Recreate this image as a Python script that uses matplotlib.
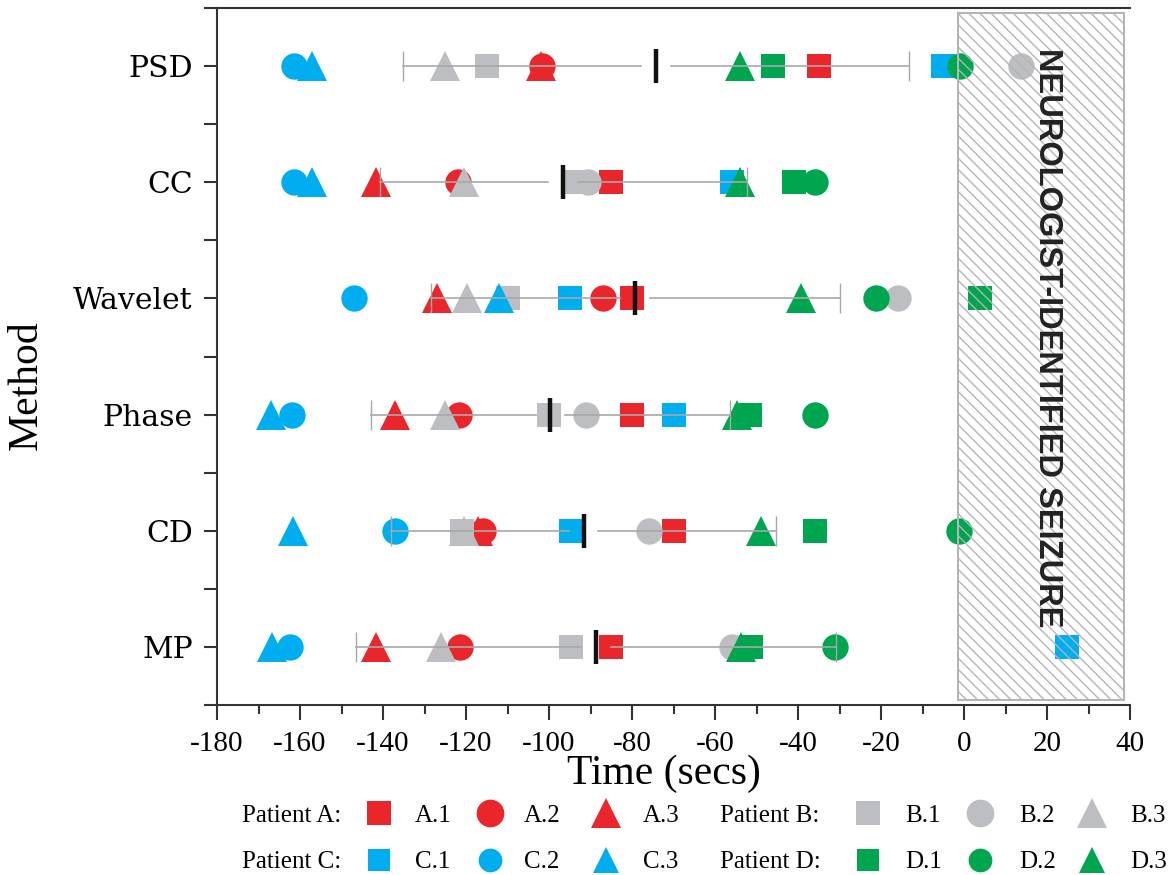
import matplotlib.pyplot as plt
import numpy as np
from matplotlib.lines import Line2D
from matplotlib.patches import Rectangle

plt.rcParams['axes.unicode_minus'] = False

# methods, top to bottom
methods = ['PSD', 'CC', 'Wavelet', 'Phase', 'CD', 'MP']

# detection time (secs before neurologist-identified onset), one value per method
A1 = [-35, -85, -80, -80, -70, -85]
A2 = [-101.8, -122, -87, -121.6, -116, -121.4]
A3 = [-102, -141.8, -127, -137, -117, -141.8]
B1 = [-115, -93.5, -110, -100, -121, -94.8]
B2 = [13.7, -90.5, -16, -91, -76, -55.8]
B3 = [-125, -120.4, -119.7, -125, -120.4, -126]
C1 = [-5, -55.8, -95, -70, -94.8, 24.8]
C2 = [-161.4, -161.5, -147, -162, -137, -162.3]
C3 = [-157, -157, -112, -167, -161.8, -166.7]
D1 = [-46, -41, 3.8, -51.5, -36, -51.4]
D2 = [-1, -36, -21.2, -36, -1.2, -31]
D3 = [-54, -54, -39.2, -54.6, -49, -53.7]

patients = ['A', 'B', 'C', 'D']
patient_colors = ['#E8262B', '#BCBEC2', '#00AEEF', '#00A54F']
trial_markers = ['s', 'o', '^']
series = [[A1, A2, A3], [B1, B2, B3], [C1, C2, C3], [D1, D2, D3]]

seizure_start, seizure_end = -1.4, 38.6

marker_size = {'s': 17, 'o': 19, '^': 21}
serif = 'Liberation Serif'

fig = plt.figure(figsize=(11.73, 8.75), dpi=100)
ax = fig.add_axes([217 / 1173, 1 - 705 / 875, (1130 - 217) / 1173, 697 / 875])

ypos = np.arange(len(methods))[::-1] + 1

for p, color, trials in zip(patients, patient_colors, series):
    for mk, vals in zip(trial_markers, trials):
        ax.plot(vals, ypos, ls='none', marker=mk, ms=marker_size[mk],
                color=color, mew=0, zorder=3)

# mean +/- sd per method
all_vals = np.array([v for trials in series for v in trials])
mean = all_vals.mean(axis=0)
sd = all_vals.std(axis=0, ddof=1)
gap = 3.6
for m, s, y in zip(mean, sd, ypos):
    ax.plot([m - s, m - gap], [y, y], color='#A8A8A8', lw=1.2, zorder=4)
    ax.plot([m + gap, m + s], [y, y], color='#A8A8A8', lw=1.2, zorder=4)
    ax.plot([m - s, m + s], [y, y], ls='none', marker='|', ms=21, mew=1.0,
            color='#A8A8A8', zorder=4)
    ax.plot(m, y, marker='|', ms=25, mew=3.2, color='#111111', zorder=5)

# seizure window
plt.rcParams['hatch.linewidth'] = 1.0
ax.add_patch(Rectangle((seizure_start, 0.54), seizure_end - seizure_start, 5.92,
                       facecolor='none', edgecolor='#B5B5B5', hatch='\\\\\\',
                       lw=1.5, zorder=6))
ax.text(20.2, 3.66, 'NEUROLOGIST-IDENTIFIED SEIZURE', rotation=270,
        ha='center', va='center', fontsize=23.5, fontweight='bold',
        family='Liberation Sans', color='#222222', zorder=7)

ax.set_xlim(-180, 40)
ax.set_ylim(0.5, 6.5)
ax.set_xticks(np.arange(-180, 41, 20))
ax.set_xticks(np.arange(-170, 40, 20), minor=True)
ax.set_yticks(ypos, methods)
ax.set_yticks(np.arange(0.5, 6.6, 1.0), minor=True)

for lab in ax.get_xticklabels():
    lab.set_family(serif)
    lab.set_fontsize(21)
for lab in ax.get_yticklabels():
    lab.set_family('DejaVu Serif')
    lab.set_fontsize(21.5)

ax.tick_params(axis='x', which='major', length=10.8, width=1.5, pad=8, color='#333333')
ax.tick_params(axis='x', which='minor', length=6.5, width=1.5, color='#333333')
ax.tick_params(axis='y', which='both', length=9.4, width=1.5, pad=8, color='#333333')

for side in ['left', 'bottom', 'top']:
    ax.spines[side].set_linewidth(1.5)
    ax.spines[side].set_color('#333333')
ax.spines['right'].set_visible(False)

fig.text(664 / 1173, 1 - 774 / 875, 'Time (secs)', ha='center', va='center',
         fontsize=30, family=serif)
fig.text(27 / 1173, 1 - 385 / 875, 'Method', ha='center', va='center',
         rotation=90, fontsize=30, family=serif)

# legend, drawn by hand in two rows
row_y = [813, 860]
group_label_x = [242, 720]
group_marker_x = [[379, 490, 606], [868, 980, 1092]]
group_text_x = [[415, 524, 643], [905, 1019, 1130]]
row_ms = [1.05, 0.9]
for k, (p, color) in enumerate(zip(patients, patient_colors)):
    row, grp = k // 2, k % 2
    yf = 1 - row_y[row] / 875
    fig.text(group_label_x[grp] / 1173, yf, f'Patient {p}:', ha='left',
             va='center_baseline', fontsize=18, family=serif)
    for j, mk in enumerate(trial_markers):
        fig.add_artist(Line2D([group_marker_x[grp][j] / 1173], [yf],
                              transform=fig.transFigure, ls='none', marker=mk,
                              ms=marker_size[mk] * row_ms[row], mew=0, color=color))
        fig.text(group_text_x[grp][j] / 1173, yf, f'{p}.{j + 1}', ha='left',
                 va='center_baseline', fontsize=18, family=serif)

fig.savefig('out.png', dpi=100)
